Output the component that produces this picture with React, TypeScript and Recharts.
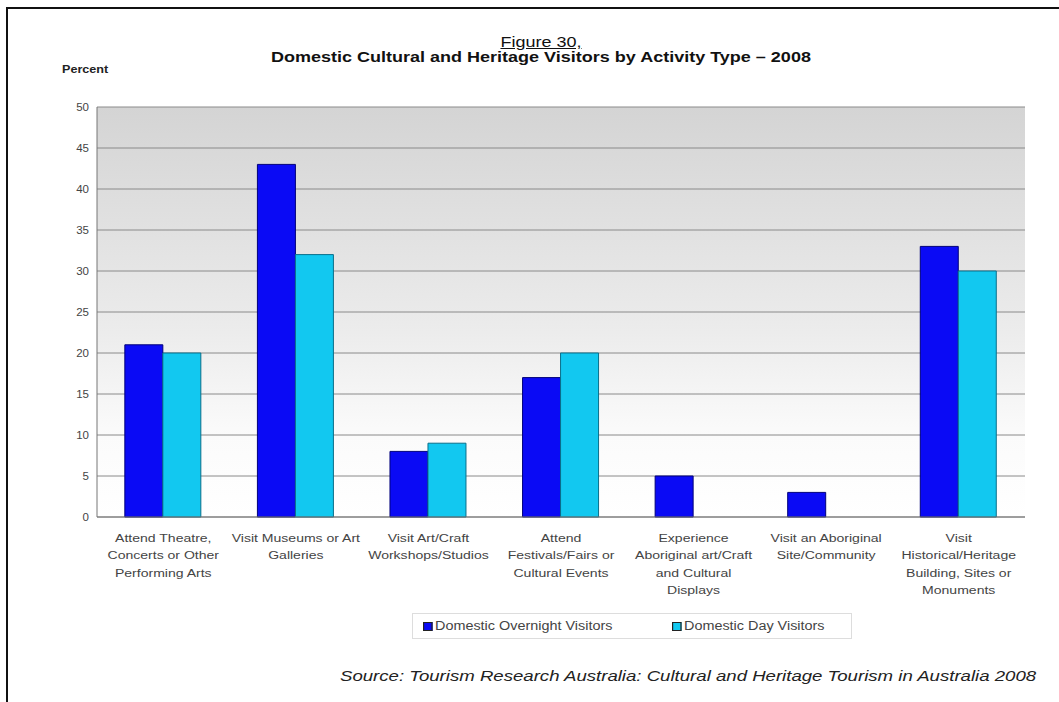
import React from 'react';
import { BarChart, Bar, XAxis, YAxis, CartesianGrid, Legend } from 'recharts';

const activities = [
  'Attend Theatre,\nConcerts or Other\nPerforming Arts',
  'Visit Museums or Art\nGalleries',
  'Visit Art/Craft\nWorkshops/Studios',
  'Attend\nFestivals/Fairs or\nCultural Events',
  'Experience\nAboriginal art/Craft\nand Cultural\nDisplays',
  'Visit an Aboriginal\nSite/Community',
  'Visit\nHistorical/Heritage\nBuilding, Sites or\nMonuments',
];
const overnight = [21, 43, 8, 17, 5, 3, 33];
const dayTrip = [20, 32, 9, 20, 0, 0, 30];
const yTicks = [0, 5, 10, 15, 20, 25, 30, 35, 40, 45, 50];

const seriesNames = ['Domestic Overnight Visitors', 'Domestic Day Visitors'];
const seriesColors = ['#0a0af5', '#12c8f0'];

const data = activities.map((name, i) => ({
  name,
  overnight: overnight[i],
  day: dayTrip[i],
}));

const FONT = '"Liberation Sans", Arial, sans-serif';

const CategoryTick = (props: any) => {
  const { x, y, payload } = props;
  const lines = String(payload.value).split('\n');
  return (
    <g transform={`translate(${x},${y}) scale(1.2,1)`}>
      {lines.map((ln, i) => (
        <text key={i} x={0} y={17 + i * 17.5} textAnchor="middle" fill="#444" fontSize={11.7} fontFamily={FONT}>
          {ln}
        </text>
      ))}
    </g>
  );
};

const LegendBox = () => (
  <div style={{ display: 'flex', alignItems: 'center', height: 24, border: '1px solid #ddd', background: '#fff', fontFamily: FONT, fontSize: 12, color: '#444' }}>
    {seriesNames.map((nm, i) => (
      <div key={i} style={{ display: 'flex', alignItems: 'center', position: 'absolute', left: i === 0 ? 11 : 260, transform: 'scaleX(1.2)', transformOrigin: 'left center' }}>
        <span style={{ display: 'inline-block', width: 6, height: 7, background: seriesColors[i], border: '1px solid #222', marginRight: 2 }} />
        {nm}
      </div>
    ))}
  </div>
);

export default function App() {
  return (
    <div style={{ position: 'absolute', left: 0, top: 0, width: 1059, height: 702, background: '#fff', overflow: 'hidden' }}>
      <svg width={0} height={0} style={{ position: 'absolute' }}>
        <defs>
          <linearGradient id="plotBg" x1="0" y1="0" x2="0" y2="1">
            <stop offset="0%" stopColor="#d4d4d4" />
            <stop offset="55%" stopColor="#ececec" />
            <stop offset="80%" stopColor="#fbfbfb" />
            <stop offset="100%" stopColor="#ffffff" />
          </linearGradient>
        </defs>
      </svg>
      <div style={{ position: 'absolute', left: 6, top: 7, width: 1060, height: 700, borderTop: '2px solid #111', borderLeft: '2px solid #111' }} />
      <div style={{ position: 'absolute', left: 0, top: 33, width: 1082, textAlign: 'center', transform: 'scaleX(1.2)', transformOrigin: '541px 0' }}>
        <span style={{ fontFamily: FONT, fontSize: 15, color: '#111', textDecoration: 'underline' }}>Figure 30,</span>
      </div>
      <div style={{ position: 'absolute', left: 0, top: 48, width: 1082, textAlign: 'center', fontFamily: FONT, fontSize: 15, fontWeight: 'bold', color: '#111', transform: 'scaleX(1.2)', transformOrigin: '541px 0' }}>
        Domestic Cultural and Heritage Visitors by Activity Type – 2008
      </div>
      <div style={{ position: 'absolute', left: 62, top: 63, fontFamily: FONT, fontSize: 10.5, fontWeight: 'bold', color: '#222', transform: 'scaleX(1.2)', transformOrigin: 'left top' }}>
        Percent
      </div>
      <div style={{ position: 'absolute', left: 0, top: 0 }}>
        <BarChart
          width={1059}
          height={634}
          data={data}
          margin={{ top: 107, right: 34, left: 67, bottom: 0 }}
          barCategoryGap="21%"
          barGap={0}
        >
          <CartesianGrid vertical={false} stroke="#8a8a8a" fill="url(#plotBg)" />
          <XAxis dataKey="name" height={93} interval={0} tick={<CategoryTick />} tickLine={false} axisLine={{ stroke: '#777' }} />
          <YAxis
            width={30}
            domain={[0, 50]}
            ticks={yTicks}
            tick={{ fontSize: 11.5, fill: '#444', fontFamily: FONT }}
            tickLine={false}
            axisLine={{ stroke: '#777' }}
          />
          <Legend
            content={<LegendBox />}
            wrapperStyle={{ position: 'absolute', left: 412, top: 613, width: 440, height: 24 }}
          />
          <Bar dataKey="overnight" name={seriesNames[0]} fill={seriesColors[0]} stroke="#00007a" strokeWidth={1} isAnimationActive={false} />
          <Bar dataKey="day" name={seriesNames[1]} fill={seriesColors[1]} stroke="#0a6f8a" strokeWidth={1} isAnimationActive={false} />
        </BarChart>
      </div>
      <div style={{ position: 'absolute', left: 340, top: 667, fontFamily: FONT, fontSize: 15.5, fontStyle: 'italic', color: '#222', transform: 'scaleX(1.2)', transformOrigin: 'left top', whiteSpace: 'nowrap' }}>
        Source: Tourism Research Australia: Cultural and Heritage Tourism in Australia 2008
      </div>
    </div>
  );
}
